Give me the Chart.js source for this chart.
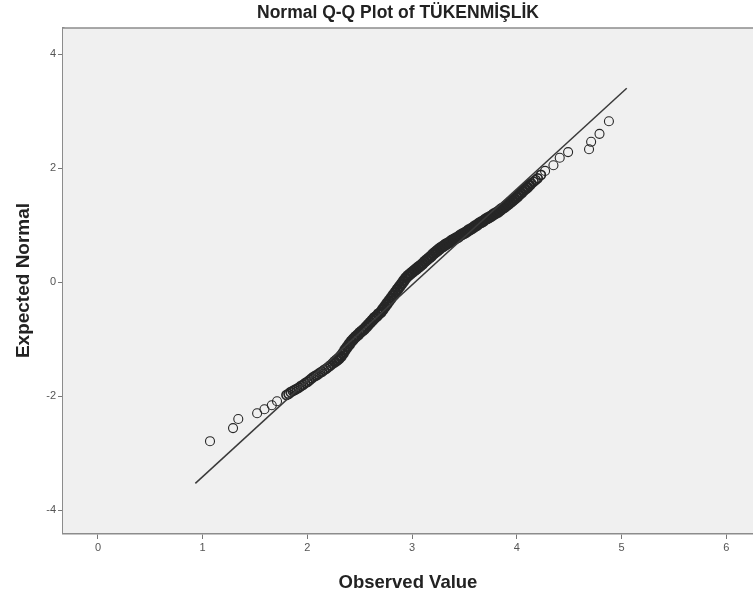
<!DOCTYPE html>
<html>
<head>
<meta charset="utf-8">
<script src="https://cdn.jsdelivr.net/npm/chart.js@4.4.0/dist/chart.umd.min.js"></script>
<style>
  body { margin: 0; background: #ffffff; }
  #myChart { display: block; }
</style>
</head>
<body>
<canvas id="myChart" width="753" height="598"></canvas>
<script>
/* DATOS DEL GRAFICO */
const titulo = "Normal Q-Q Plot of TÜKENMİŞLİK";
const tituloX = "Observed Value";
const tituloY = "Expected Normal";

// VALORES OBSERVADOS (EJE X)
const observado = [
  1.07, 1.29, 1.34, 1.52, 1.59, 1.66, 1.71,
  1.80, 1.82, 1.84, 1.86, 1.88, 1.90, 1.92, 1.94, 1.96, 1.98,
  2.00, 2.02, 2.04, 2.06, 2.08, 2.10, 2.12, 2.14, 2.16, 2.18,
  2.20, 2.22, 2.24, 2.26, 2.28, 2.30, 2.32, 2.34, 2.36, 2.38,
  2.40, 2.42, 2.44, 2.46, 2.48, 2.50, 2.52, 2.54, 2.56, 2.58,
  2.60, 2.62, 2.64, 2.66, 2.68, 2.70, 2.72, 2.74, 2.76, 2.78,
  2.80, 2.82, 2.84, 2.86, 2.88, 2.90, 2.92, 2.94, 2.96, 2.98,
  3.00, 3.02, 3.04, 3.06, 3.08, 3.10, 3.12, 3.14, 3.16, 3.18,
  3.20, 3.22, 3.24, 3.26, 3.28, 3.30, 3.32, 3.34, 3.36, 3.38,
  3.40, 3.42, 3.44, 3.46, 3.48, 3.50, 3.52, 3.54, 3.56, 3.58,
  3.60, 3.62, 3.64, 3.66, 3.68, 3.70, 3.72, 3.74, 3.76, 3.78,
  3.80, 3.82, 3.84, 3.86, 3.88, 3.90, 3.92, 3.94, 3.96, 3.98,
  4.00, 4.02, 4.04, 4.06, 4.08, 4.10, 4.12, 4.14, 4.16, 4.18,
  4.20, 4.23, 4.27, 4.35, 4.41, 4.49, 4.69, 4.71, 4.79, 4.88
];

// VALORES NORMALES ESPERADOS (EJE Y)
const esperado = [
  -2.79, -2.56, -2.40, -2.30, -2.23, -2.16, -2.09,
  -1.98, -1.96, -1.93, -1.91, -1.89, -1.87, -1.85, -1.82, -1.80, -1.77,
  -1.75, -1.72, -1.69, -1.66, -1.64, -1.62, -1.59, -1.57, -1.54, -1.52,
  -1.49, -1.46, -1.43, -1.40, -1.37, -1.34, -1.30, -1.25, -1.19, -1.14,
  -1.09, -1.04, -1.00, -0.96, -0.93, -0.89, -0.86, -0.83, -0.79, -0.75,
  -0.71, -0.67, -0.63, -0.60, -0.56, -0.53, -0.48, -0.43, -0.38, -0.33,
  -0.28, -0.23, -0.18, -0.13, -0.08, -0.03, 0.02, 0.07, 0.11, 0.14,
  0.17, 0.20, 0.23, 0.26, 0.29, 0.32, 0.36, 0.39, 0.42, 0.45,
  0.49, 0.52, 0.55, 0.58, 0.61, 0.63, 0.66, 0.68, 0.70, 0.73,
  0.75, 0.77, 0.79, 0.82, 0.84, 0.86, 0.88, 0.91, 0.93, 0.95,
  0.98, 1.00, 1.03, 1.05, 1.07, 1.10, 1.12, 1.14, 1.16, 1.19,
  1.21, 1.23, 1.26, 1.29, 1.31, 1.34, 1.37, 1.40, 1.43, 1.46,
  1.49, 1.53, 1.56, 1.60, 1.63, 1.66, 1.70, 1.73, 1.76, 1.79,
  1.82, 1.88, 1.95, 2.05, 2.18, 2.28, 2.33, 2.46, 2.60, 2.82
];

// LINEA DE REFERENCIA (EXTREMOS)
const lineaX = [0.93, 5.05];
const lineaY = [-3.53, 3.40];

// MARCAS DE LOS EJES
const ticksX = [0, 1, 2, 3, 4, 5, 6];
const ticksY = [-4, -2, 0, 2, 4];

/* ARMAR LOS PUNTOS */
const puntos = observado.map((x, i) => ({ x: x, y: esperado[i] }));
const linea = lineaX.map((x, i) => ({ x: x, y: lineaY[i] }));

// GROSOR DEL CIRCULO: EN LA ZONA DENSA SE VE COMO UNA BANDA NEGRA
function grosorPunto(ctx) {
  const p = ctx.raw;
  if (!p) return 1.2;
  if (p.x >= 2.26 && p.x <= 4.12) return 2.8;
  if (p.x >= 1.80 && p.x <= 4.23) return 1.7;
  return 1.1;
}

// PLUGIN PARA EL FONDO GRIS, EL BORDE SUPERIOR Y EL TITULO
const fondoPlugin = {
  id: "fondo",
  beforeDatasetsDraw(chart) {
    const { ctx, chartArea } = chart;
    ctx.save();
    ctx.fillStyle = "#f0f0f0";
    ctx.fillRect(chartArea.left, chartArea.top, chartArea.right - chartArea.left, chartArea.bottom - chartArea.top);
    ctx.strokeStyle = "#8c8c8c";
    ctx.lineWidth = 1.5;
    ctx.beginPath();
    ctx.moveTo(chartArea.left, chartArea.top);
    ctx.lineTo(chartArea.right, chartArea.top);
    ctx.stroke();
    ctx.restore();
  },
  afterDraw(chart) {
    const { ctx, chartArea } = chart;
    ctx.save();
    ctx.fillStyle = "#222222";
    ctx.font = "bold 17.5px 'Liberation Sans', Arial, sans-serif";
    ctx.textAlign = "center";
    ctx.textBaseline = "middle";
    ctx.fillText(titulo, (chartArea.left + chartArea.right) / 2 - 10, 13);
    ctx.restore();
  }
};

const chartDOM = document.getElementById("myChart");
const grafico = new Chart(chartDOM, {
  type: "scatter",
  data: {
    datasets: [
      {
        label: "linea",
        data: linea,
        showLine: true,
        borderColor: "#3a3a3a",
        borderWidth: 1.5,
        pointRadius: 0
      },
      {
        label: "observado",
        data: puntos,
        pointStyle: "circle",
        pointRadius: 4.5,
        pointBorderWidth: grosorPunto,
        pointBorderColor: "#262626",
        pointBackgroundColor: "rgba(0,0,0,0)"
      }
    ]
  },
  options: {
    responsive: false,
    animation: false,
    layout: { autoPadding: false, padding: { top: 28, left: 12, right: 0, bottom: 0 } },
    plugins: {
      legend: { display: false },
      tooltip: { enabled: false },
      title: { display: false }
    },
    scales: {
      x: {
        type: "linear",
        min: -0.334,
        max: 6.256,
        afterBuildTicks: (scale) => { scale.ticks = ticksX.map(v => ({ value: v })); },
        afterFit: (scale) => {
          scale.height = 65;
          scale.paddingLeft = 0;
          scale.paddingRight = 0;
        },
        grid: { drawOnChartArea: false, drawTicks: true, tickLength: 6, color: "#777777", lineWidth: 1 },
        border: { display: true, color: "#8c8c8c", width: 2.5 },
        ticks: { color: "#555555", font: { size: 11, family: "'Liberation Sans', Arial" }, padding: 2, maxRotation: 0 },
        title: {
          display: true,
          text: tituloX,
          color: "#222222",
          font: { size: 18.5, weight: "bold", family: "'Liberation Sans', Arial" },
          padding: { top: 7 }
        }
      },
      y: {
        type: "linear",
        min: -4.40,
        max: 4.456,
        afterBuildTicks: (scale) => { scale.ticks = ticksY.map(v => ({ value: v })); },
        afterFit: (scale) => {
          scale.width = 51;
          scale.paddingTop = 0;
          scale.paddingBottom = 0;
        },
        grid: { drawOnChartArea: false, drawTicks: true, tickLength: 5, color: "#777777", lineWidth: 1 },
        border: { display: true, color: "#8c8c8c", width: 2.5 },
        ticks: { color: "#555555", font: { size: 11, family: "'Liberation Sans', Arial" }, padding: 2 },
        title: {
          display: true,
          text: tituloY,
          color: "#222222",
          font: { size: 19, weight: "bold", family: "'Liberation Sans', Arial" },
          padding: { top: 0, bottom: 0 }
        }
      }
    }
  },
  plugins: [fondoPlugin]
});
</script>
</body>
</html>
